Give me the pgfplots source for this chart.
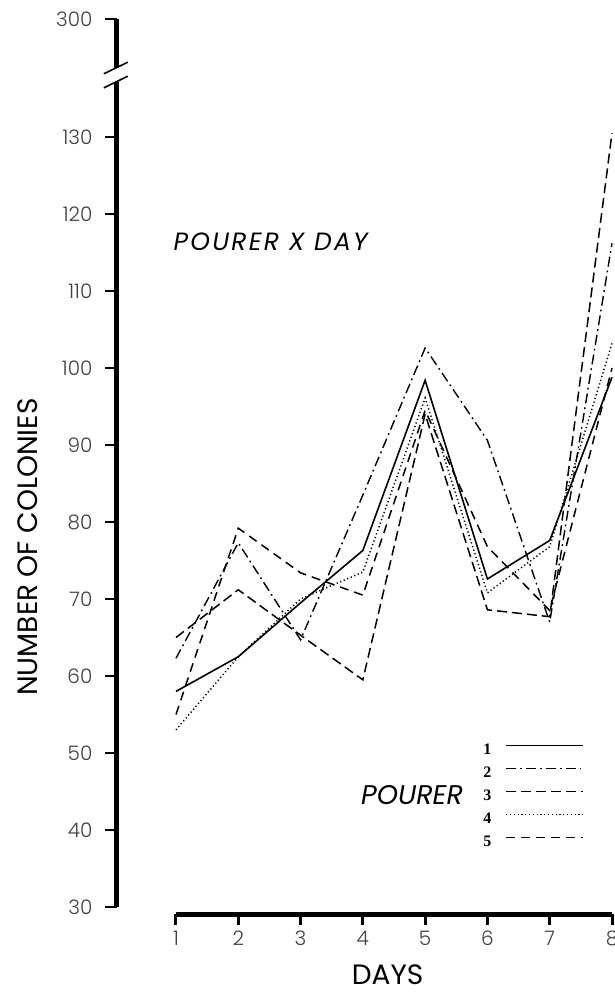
\documentclass[border=0pt]{standalone}
\usepackage{fontspec}
\setmainfont{Poppins}
\IfFontExistsTF{Poppins Light}{\newfontfamily\tickfont{Poppins Light}}{\newfontfamily\tickfont{Poppins}}
\newfontfamily\keyfont{Liberation Serif}
\usepackage{pgfplots}
\pgfplotsset{compat=1.18}

% line styles of the five pourers
\tikzset{
  p1/.style={black, line width=0.8pt, solid},
  p2/.style={black, line width=0.7pt, dash pattern=on 5pt off 2pt on 0.9pt off 2pt},
  p3/.style={black, line width=0.75pt, dash pattern=on 5pt off 2.5pt},
  p4/.style={black, line width=0.75pt, dash pattern=on 0.6pt off 1.3pt},
  p5/.style={black, line width=0.75pt, dash pattern=on 4.5pt off 3pt},
}

\begin{document}
\begin{tikzpicture}
\begin{axis}[
  at={(0,0)}, anchor=south west,
  scale only axis, width=247.6pt, height=447.4pt,
  xmin=0.05, xmax=8, ymin=29.09, ymax=145.3,
  axis line style={draw=none},
  clip=false,
  major tick length=0pt,
  tick style={draw=none},
  xtick={1,...,8},
  ytick={30,40,...,130,145.3},
  yticklabels={30,40,50,60,70,80,90,100,110,120,130,300},
  /pgf/number format/assume math mode=true,
  ticklabel style={font=\tickfont\fontsize{10}{12}\selectfont, text=black!75},
  xticklabel style={anchor=center, yshift=-12pt},
  yticklabel style={anchor=east, inner sep=0pt, xshift=-12pt},
  xlabel={DAYS}, ylabel={NUMBER OF COLONIES},
  label style={font=\fontsize{14}{16}\selectfont},
  xlabel style={at={(axis description cs:0.547,-0.0682)}, anchor=center},
  ylabel style={at={(axis description cs:-0.1797,0.41)}, anchor=center},
  legend plot pos=right,
  legend cell align=left,
  legend image code/.code={\draw[#1] (0pt,1.9pt) -- (38.5pt,1.9pt);},
  legend style={at={(axis cs:5.93,51.2)}, anchor=north west,
    draw=none, fill=none, inner sep=0pt,
    font=\keyfont\bfseries\fontsize{8}{9}\selectfont,
    nodes={inner sep=0pt, text height=5.3pt, text depth=0pt},
    row sep=6.2pt, column sep=7pt},
]
% pourer 1
\addplot[p1] coordinates {(1,58) (2,62.5) (3,69.5) (4,76.3) (5,98.4) (6,72.6) (7,77.6) (8,98.8)};
% pourer 2
\addplot[p2] coordinates {(1,62.3) (2,77.3) (3,64.7) (4,83.5) (5,102.6) (6,90.6) (7,67) (8,116.2)};
% pourer 3
\addplot[p3] coordinates {(1,65) (2,71.2) (3,65.3) (4,59.5) (5,94) (6,68.6) (7,67.7) (8,130.5)};
% pourer 4
\addplot[p4] coordinates {(1,53) (2,62.5) (3,70) (4,73.5) (5,96.1) (6,70.8) (7,76.8) (8,103.2)};
% pourer 5
\addplot[p5] coordinates {(1,55) (2,79.2) (3,73.4) (4,70.5) (5,94.5) (6,76.8) (7,68.5) (8,100)};
\legend{1,2,3,4,5}

% x axis: heavy bar from day 1 to day 8 with short downward ticks
\draw[line width=2.5pt] (axis cs:1,29.09) -- (axis cs:8,29.09);
\pgfplotsinvokeforeach{1,...,8}{
  \draw[line width=1.5pt] (axis cs:#1,29.09) -- ++(0pt,-5.5pt);
}
% y axis: heavy bar with a break between 130 and 300
\draw[line width=2.5pt] (axis cs:0.05,30) -- (axis cs:0.05,137.14);
\draw[line width=2.5pt] (axis cs:0.05,138.96) -- (axis cs:0.05,145.3);
\pgfplotsinvokeforeach{30,40,...,130,145.3}{
  \draw[line width=0.9pt] (axis cs:0.05,#1) -- ++(-6pt,0pt);
}
\draw[line width=0.8pt] (axis cs:0.05,137.14) ++(-6.5pt,-2.9pt) -- ++(12pt,5.8pt);
\draw[line width=0.8pt] (axis cs:0.05,138.96) ++(-6.5pt,-2.9pt) -- ++(12pt,5.8pt);

% titles
\node[anchor=base west, font=\itshape\fontsize{12.5}{14}\selectfont\addfontfeature{LetterSpace=9}] at (axis cs:0.85,115.3) {POURER X DAY};
\node[anchor=base west, font=\itshape\fontsize{13.5}{16}\selectfont] at (axis cs:3.86,43.25) {POURER};
\end{axis}
\pgfresetboundingbox
\useasboundingbox (-58.4pt,-42pt) rectangle (249.1pt,457pt);
\end{tikzpicture}
\end{document}
